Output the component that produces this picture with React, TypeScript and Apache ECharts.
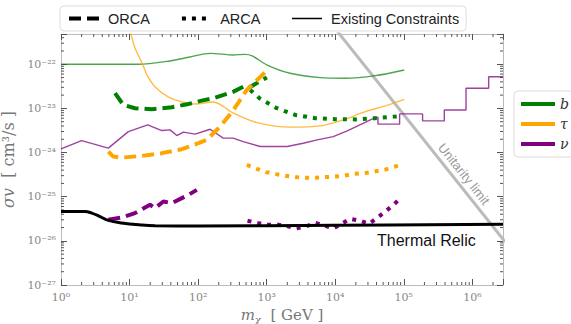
import React, { useEffect, useRef } from "react";
import * as echarts from "echarts";

// ---------- axis ranges (GeV, cm^3/s) ----------
const X_MIN = 1;
const X_MAX = 2.8e6;
const Y_MIN = 1e-27;
const Y_MAX = 4.85e-22;

// ---------- Existing constraints (thin solid) ----------
const bExistM = [1, 3.71, 13.3, 39, 76, 150, 324, 486, 614, 1016, 2200, 6040, 14000, 38400, 101600];
const bExistS = [1e-22, 1e-22, 1e-22, 1.19e-22, 1.46e-22, 1.77e-22, 1.62e-22, 1.68e-22, 1.55e-22, 9.6e-23, 6.25e-23, 4.98e-23, 4.82e-23, 5.52e-23, 7.43e-23];

const tauExistM = [9.5, 10.5, 12.0, 15.2, 18.6, 23.6, 36.5, 58.4, 90.4, 166, 324, 727, 2200, 6040, 13100, 27400, 53700, 101600];
const tauExistS = [1e-21, 4.85e-22, 2.34e-22, 1.07e-22, 5.16e-23, 3.06e-23, 1.82e-23, 1.4e-23, 1.26e-23, 1.4e-23, 7.9e-24, 4.77e-24, 3.76e-24, 4.02e-24, 5.5e-24, 8.47e-24, 1.14e-23, 1.61e-23];

const nuExistM = [1, 2.0, 4.9, 9.6, 18.4, 29.5, 39, 48.9, 61, 90.4, 150, 232, 324, 454, 803, 1990, 3410, 5460, 9350, 14960, 34400, 42000, 42000, 86900, 86900, 188000, 188000, 390000, 390000, 809000, 809000, 1.73e6, 1.73e6, 2.8e6];
const nuExistS = [1.21e-24, 1.87e-24, 1.26e-24, 2.98e-24, 4.23e-24, 3.15e-24, 3.27e-24, 2.43e-24, 2.9e-24, 2.61e-24, 3.38e-24, 2.12e-24, 2.12e-24, 1.77e-24, 1.37e-24, 1.37e-24, 1.63e-24, 1.94e-24, 2.3e-24, 3.1e-24, 5.7e-24, 6.33e-24, 4.4e-24, 4.4e-24, 7.52e-24, 7.52e-24, 5.21e-24, 5.21e-24, 9.24e-24, 9.24e-24, 2.86e-23, 2.86e-23, 5.23e-23, 5.23e-23];

// ---------- ORCA (dashed) ----------
const bOrcaM = [6.14, 8.11, 12.0, 21.1, 41.3, 72.2, 113, 167, 328, 514, 555, 1007];
const bOrcaS = [2.21e-23, 1.2e-23, 1.01e-23, 9.6e-24, 1.06e-23, 1.26e-23, 1.5e-23, 1.7e-23, 2.4e-23, 3.4e-23, 2.98e-23, 5.03e-23];

const tauOrcaM = [4.9, 5.8, 7.7, 15.1, 29.5, 57.8, 101, 134, 209, 328, 514, 967];
const tauOrcaS = [1.05e-24, 8.1e-25, 7.7e-25, 8.4e-25, 9.7e-25, 1.19e-24, 1.63e-24, 1.94e-24, 3.87e-24, 9.2e-24, 2.62e-23, 6.8e-23];

const nuOrcaM = [4.9, 7.7, 12.0, 19.9, 23.6, 31.1, 41.3, 57.8, 72.2, 95.7];
const nuOrcaS = [3.0e-26, 3.38e-26, 4.26e-26, 6.56e-26, 5.52e-26, 7.78e-26, 7.16e-26, 9.29e-26, 1.1e-25, 1.43e-25];

// ---------- ARCA (dotted) ----------
const bArcaM = [574, 785, 1409, 2610, 5110, 10000, 19600, 38400, 72600, 96000];
const bArcaS = [2.62e-23, 1.7e-23, 1.01e-23, 7.13e-24, 6.0e-24, 5.7e-24, 5.64e-24, 6.0e-24, 6.52e-24, 6.76e-24];

const tauArcaM = [514, 719, 977, 1377, 1905, 2610, 3650, 5110, 7150, 10000, 13700, 19100, 26800, 37500, 52400, 71000, 96000];
const tauArcaS = [5.27e-25, 4.28e-25, 3.6e-25, 3.25e-25, 2.97e-25, 2.78e-25, 2.68e-25, 2.68e-25, 2.78e-25, 2.86e-25, 3.02e-25, 3.3e-25, 3.42e-25, 3.72e-25, 4.06e-25, 4.68e-25, 5.47e-25];

const nuArcaM = [525, 734, 1007, 1410, 1970, 2700, 3730, 5110, 6900, 9440, 12800, 16600, 23200, 31300, 41500, 53700, 71000, 88900];
const nuArcaS = [2.85e-26, 2.53e-26, 2.31e-26, 2.35e-26, 2.16e-26, 1.91e-26, 2.12e-26, 2.57e-26, 2.23e-26, 1.91e-26, 2.53e-26, 3.16e-26, 2.85e-26, 2.44e-26, 3.38e-26, 4.62e-26, 6.56e-26, 9.29e-26];

// ---------- Thermal relic & unitarity ----------
const relicM = [1, 2.24, 2.81, 3.5, 4.9, 7.7, 15.1, 23.6, 100, 10000, 2.8e6];
const relicS = [4.63e-26, 4.63e-26, 4.25e-26, 3.7e-26, 2.9e-26, 2.53e-26, 2.28e-26, 2.2e-26, 2.18e-26, 2.25e-26, 2.38e-26];

const unitM = [10000, 3.0e6];
const unitS = [6.4e-22, 9.5e-27];

// ---------- colours ----------
const GREEN = "#008000";
const ORANGE = "#FFA500";
const PURPLE = "#800080";

const SUP: Record<string, string> = { "-": "⁻", "0": "⁰", "1": "¹", "2": "²", "3": "³", "4": "⁴", "5": "⁵", "6": "⁶", "7": "⁷", "8": "⁸", "9": "⁹" };
// axes are linear in log10 space; labels show the power of ten
const powLabel = (e: number) => {
  const r = Math.round(e);
  if (Math.abs(e - r) > 1e-6) return "";
  return "10" + String(r).split("").map((c) => SUP[c]).join("");
};

const L = Math.log10;
const zip = (a: number[], b: number[]) => a.map((v, i) => [L(v), L(b[i])]);

const minorXTicks: number[] = [];
for (let d = 0; d <= 6; d++) for (let k = 2; k <= 9; k++) { const v = k * Math.pow(10, d); if (v < X_MAX) minorXTicks.push(L(v)); }
const minorYTicks: number[] = [];
for (let d = -27; d <= -22; d++) for (let k = 2; k <= 9; k++) { const v = k * Math.pow(10, d); if (v < Y_MAX) minorYTicks.push(L(v)); }

const DASH = [12, 6];
const DOT = [4, 6];

export default function App() {
  const ref = useRef<HTMLDivElement>(null);
  useEffect(() => {
    const chart = echarts.init(ref.current!, null, { renderer: "svg" });
    const tickColor = "#555";
    const axisCommon = (pos: string, showLabel: boolean, margin: number) => ({
      type: "value",
      position: pos,
      interval: 1,
      axisLine: { show: true, onZero: false, lineStyle: { color: "#bbb", width: 1 } },
      axisTick: { show: true, inside: true, length: 6, lineStyle: { color: tickColor, width: 1 } },
      splitLine: { show: false },
      axisLabel: {
        show: showLabel,
        formatter: powLabel,
        color: "#888",
        fontFamily: "DejaVu Serif",
        fontSize: 11,
        margin,
      },
    });
    const xMin = L(X_MIN), xMax = L(X_MAX), yMin = L(Y_MIN), yMax = L(Y_MAX);
    const line = (name: string, data: number[][], color: string, width: number, type: any, extra: any = {}) => ({
      type: "line",
      name,
      data,
      symbol: "none",
      showSymbol: false,
      silent: true,
      clip: true,
      lineStyle: { color, width, type, cap: "butt", ...(extra.lineStyle || {}) },
      itemStyle: { color },
      z: extra.z ?? 3,
      smooth: extra.smooth ?? false,
    });
    const option: any = {
      animation: false,
      grid: { left: 61, right: 68, top: 34, bottom: 39, containLabel: false, outerBoundsMode: "none" },
      xAxis: [
        {
          ...axisCommon("bottom", true, 7),
          min: xMin,
          max: xMax,
          name: "{i|m}{s|χ}{r|  [ GeV ]}",
          nameLocation: "middle",
          nameGap: 20,
          nameTextStyle: {
            rich: {
              i: { fontFamily: "DejaVu Serif", fontStyle: "italic", fontSize: 15, color: "#777", lineHeight: 18 },
              s: { fontFamily: "DejaVu Serif", fontStyle: "italic", fontSize: 10, color: "#777", verticalAlign: "bottom", lineHeight: 18 },
              r: { fontFamily: "DejaVu Serif", fontSize: 15, color: "#777", lineHeight: 18 },
            },
          },
        },
        { ...axisCommon("top", false, 7), min: xMin, max: xMax },
      ],
      yAxis: [
        {
          ...axisCommon("left", true, 5),
          min: yMin,
          max: yMax,
          name: "{i|σv}{r|  [ cm³/s ]}",
          nameLocation: "middle",
          nameGap: 22,
          nameTextStyle: {
            rich: {
              i: { fontFamily: "DejaVu Serif", fontStyle: "italic", fontSize: 16, color: "#777" },
              r: { fontFamily: "DejaVu Serif", fontSize: 16, color: "#777" },
            },
          },
        },
        { ...axisCommon("right", false, 5), min: yMin, max: yMax },
      ],
      legend: [
        {
          data: [
            { name: "ORCA", lineStyle: { width: 4 } },
            { name: "ARCA", lineStyle: { width: 4 } },
            { name: "Existing Constraints", lineStyle: { width: 1.5 } },
          ],
          left: 60,
          top: 6,
          orient: "horizontal",
          itemWidth: 30,
          itemHeight: 14,
          itemGap: 30,
          padding: [5, 7, 5, 7],
          backgroundColor: "#fff",
          borderColor: "#ddd",
          borderWidth: 1,
          borderRadius: 4,
          selectedMode: false,
          itemStyle: { opacity: 0 },
          formatter: (n: string) => " " + n,
          textStyle: { fontFamily: "Liberation Sans", fontSize: 14.5, color: "#222" },
        },
        {
          data: [
            { name: "b", lineStyle: { width: 4 } },
            { name: "τ", lineStyle: { width: 4 } },
            { name: "ν", lineStyle: { width: 4 } },
          ],
          left: 514,
          top: 91,
          orient: "vertical",
          itemWidth: 34,
          itemHeight: 14,
          itemGap: 6,
          padding: [6, 5, 6, 5],
          backgroundColor: "#fff",
          borderColor: "#ddd",
          borderWidth: 1,
          borderRadius: 4,
          selectedMode: false,
          itemStyle: { opacity: 0 },
          textStyle: { fontFamily: "DejaVu Serif", fontStyle: "italic", fontSize: 14, color: "#333" },
        },
      ],
      graphic: [
        {
          type: "text",
          x: 377,
          y: 240,
          z: 10,
          style: { text: "Thermal Relic", fontFamily: "Liberation Sans", fontSize: 16, fill: "#111", verticalAlign: "middle", align: "left" },
        },
        {
          type: "text",
          x: 464,
          y: 174,
          rotation: -0.899,
          z: 10,
          style: { text: "Unitarity limit", fontFamily: "Liberation Sans", fontSize: 13, fill: "#999", verticalAlign: "middle", align: "center" },
        },
      ],
      series: [
        // legend-only entries
        line("ORCA", [], "#000", 4, DASH),
        line("ARCA", [], "#000", 4, DOT),
        line("Existing Constraints", [], "#000", 1.5, "solid"),
        line("b", [], GREEN, 4, "solid"),
        line("τ", [], ORANGE, 4, "solid"),
        line("ν", [], PURPLE, 4, "solid"),
        // unitarity
        line("Unitarity", zip(unitM, unitS), "#bbb", 3, "solid", { z: 1 }),
        // existing
        line("b existing", zip(bExistM, bExistS), GREEN, 1.4, "solid", { lineStyle: { opacity: 0.7 }, smooth: 0.3 }),
        line("tau existing", zip(tauExistM, tauExistS), ORANGE, 1.4, "solid", { lineStyle: { opacity: 0.75 }, smooth: 0.3 }),
        line("nu existing", zip(nuExistM, nuExistS), PURPLE, 1.4, "solid", { lineStyle: { opacity: 0.75 } }),
        // thermal relic
        line("Thermal Relic", zip(relicM, relicS), "#000", 3, "solid", { smooth: 0.4, z: 4 }),
        // ORCA
        line("b ORCA", zip(bOrcaM, bOrcaS), GREEN, 4, DASH),
        line("tau ORCA", zip(tauOrcaM, tauOrcaS), ORANGE, 4, DASH),
        line("nu ORCA", zip(nuOrcaM, nuOrcaS), PURPLE, 4, DASH),
        // ARCA
        line("b ARCA", zip(bArcaM, bArcaS), GREEN, 4, DOT),
        line("tau ARCA", zip(tauArcaM, tauArcaS), ORANGE, 4, DOT),
        line("nu ARCA", zip(nuArcaM, nuArcaS), PURPLE, 4, DOT),
        // minor ticks
        {
          type: "custom",
          name: "minorX",
          silent: true,
          data: minorXTicks.map((v) => [v, yMin]),
          renderItem: (params: any, api: any) => {
            const p = api.coord([api.value(0), yMin]);
            const cs = params.coordSys;
            const st = { stroke: tickColor, lineWidth: 1 };
            return {
              type: "group",
              children: [
                { type: "line", shape: { x1: p[0], y1: cs.y + cs.height, x2: p[0], y2: cs.y + cs.height - 3 }, style: st },
                { type: "line", shape: { x1: p[0], y1: cs.y, x2: p[0], y2: cs.y + 3 }, style: st },
              ],
            };
          },
        },
        {
          type: "custom",
          name: "minorY",
          silent: true,
          data: minorYTicks.map((v) => [xMin, v]),
          renderItem: (params: any, api: any) => {
            const p = api.coord([xMin, api.value(1)]);
            const cs = params.coordSys;
            const st = { stroke: tickColor, lineWidth: 1 };
            return {
              type: "group",
              children: [
                { type: "line", shape: { x1: cs.x, y1: p[1], x2: cs.x + 3, y2: p[1] }, style: st },
                { type: "line", shape: { x1: cs.x + cs.width, y1: p[1], x2: cs.x + cs.width - 3, y2: p[1] }, style: st },
              ],
            };
          },
        },
      ],
    };
    chart.setOption(option);
    return () => chart.dispose();
  }, []);
  return <div ref={ref} style={{ position: "fixed", left: 0, top: 0, width: 571, height: 324, background: "#fff" }} />;
}
